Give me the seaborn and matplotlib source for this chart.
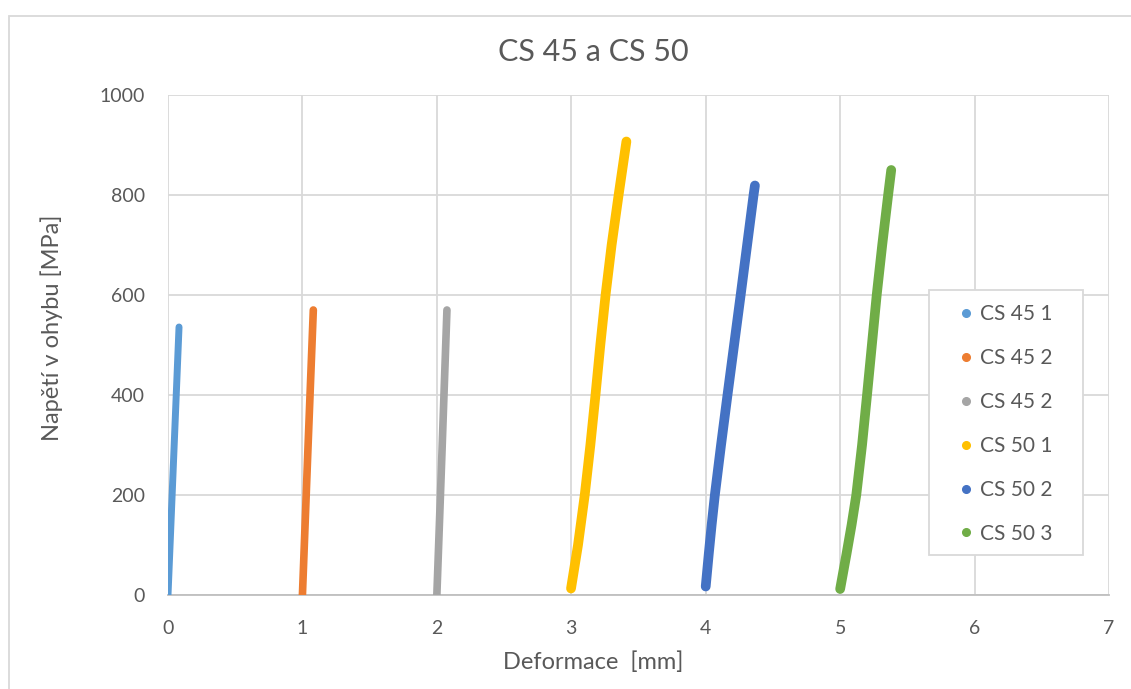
import matplotlib
matplotlib.use("Agg")
import matplotlib.pyplot as plt
import matplotlib.patches as mpatches
from matplotlib.lines import Line2D
import seaborn as sns
import pandas as pd

# Bending test curves: deformation [mm] vs. bending stress [MPa]
cs45_1_x = [0.000, 0.046, 0.082]
cs45_1_y = [0, 300, 536]

cs45_2a_x = [1.000, 1.040, 1.081]
cs45_2a_y = [0, 285, 570]

cs45_2b_x = [2.000, 2.038, 2.075]
cs45_2b_y = [0, 285, 570]

cs50_1_x = [2.998, 3.050, 3.100, 3.142, 3.180, 3.216, 3.255, 3.300, 3.352, 3.410]
cs50_1_y = [13, 100, 200, 300, 400, 500, 600, 700, 800, 907]

cs50_2_x = [4.000, 4.023, 4.044, 4.068, 4.114, 4.162, 4.211, 4.260, 4.308, 4.356, 4.366]
cs50_2_y = [17, 83, 140, 200, 300, 400, 500, 600, 700, 800, 819]

cs50_3_x = [5.000, 5.048, 5.085, 5.120, 5.163, 5.200, 5.236, 5.272, 5.313, 5.357, 5.380]
cs50_3_y = [12, 83, 140, 200, 300, 400, 500, 600, 700, 800, 850]

series_names = ["CS 45 1", "CS 45 2", "CS 45 2 ", "CS 50 1", "CS 50 2", "CS 50 3"]
legend_labels = ["CS 45 1", "CS 45 2", "CS 45 2", "CS 50 1", "CS 50 2", "CS 50 3"]
series_colors = ["#5B9BD5", "#ED7D31", "#A5A5A5", "#FFC000", "#4472C4", "#70AD47"]
series_widths = [5.0, 5.5, 5.5, 7.0, 7.0, 7.0]

x_ticks = [0, 1, 2, 3, 4, 5, 6, 7]
y_ticks = [0, 200, 400, 600, 800, 1000]

xs = [cs45_1_x, cs45_2a_x, cs45_2b_x, cs50_1_x, cs50_2_x, cs50_3_x]
ys = [cs45_1_y, cs45_2a_y, cs45_2b_y, cs50_1_y, cs50_2_y, cs50_3_y]

frames = []
for name, x, y in zip(series_names, xs, ys):
    frames.append(pd.DataFrame({"def": x, "stress": y, "series": name}))
df = pd.concat(frames, ignore_index=True)

sns.set_theme(style="white")
plt.rcParams["font.family"] = ["Lato", "DejaVu Sans"]

text_col = "#595959"
grid_col = "#D9D9D9"

fig = plt.figure(figsize=(11.31, 6.89), dpi=100)
W, H = 1131, 689
ax = fig.add_axes([168 / W, 1 - 595 / H, (1109 - 168) / W, (595 - 95) / H])

# outer chart frame
fig.patches.append(mpatches.Rectangle((9 / W, -0.01), 1.2, 1 - 16 / H + 0.01,
                                      transform=fig.transFigure, fill=False,
                                      edgecolor=grid_col, linewidth=1.3))

for name, col, lw in zip(series_names, series_colors, series_widths):
    sub = df[df["series"] == name]
    sns.lineplot(data=sub, x="def", y="stress", sort=False, ax=ax, color=col,
                 linewidth=lw, legend=False, estimator=None,
                 solid_capstyle="round", solid_joinstyle="round", zorder=3)

ax.set_xlim(0, 7)
ax.set_ylim(0, 1000)
ax.set_xticks(x_ticks)
ax.set_yticks(y_ticks)
ax.grid(True, color=grid_col, linewidth=1.3, zorder=0)
ax.set_axisbelow(True)
for side in ["top", "right", "left"]:
    ax.spines[side].set_visible(False)
ax.spines["bottom"].set_color("#BFBFBF")
ax.spines["bottom"].set_linewidth(1.3)
ax.tick_params(axis="both", length=0, labelsize=14, labelcolor=text_col)
ax.tick_params(axis="x", pad=18)
ax.tick_params(axis="y", pad=16.5)

ax.set_xlabel("Deformace  [mm]", fontsize=17, color=text_col)
ax.set_ylabel("Napětí v ohybu [MPa]", fontsize=17, color=text_col)
ax.xaxis.label.set_va("center")
ax.yaxis.label.set_va("center")
ax.xaxis.set_label_coords((593 - 168) / 941, (595 - 662) / 500)
ax.yaxis.set_label_coords((52 - 168) / 941, (595 - 328) / 500)

fig.text(593 / W, 1 - 52 / H, "CS 45 a CS 50", ha="center",
         va="center", fontsize=22, color=text_col)

# legend box
fig.patches.append(mpatches.Rectangle((929 / W, 1 - 555 / H), (1083 - 929) / W,
                                      (555 - 290) / H, transform=fig.transFigure,
                                      facecolor="white", edgecolor=grid_col,
                                      linewidth=1.3, zorder=5))

handles = [Line2D([0], [0], marker="o", linestyle="", markersize=5.5,
                  markerfacecolor=c, markeredgecolor=c) for c in series_colors]
leg = fig.legend(handles, legend_labels, loc="upper left",
                 bbox_to_anchor=(955.6 / W, 1 - 304 / H),
                 frameon=False, fontsize=15, labelcolor=text_col,
                 handlelength=1.0, handletextpad=0.15, labelspacing=1.15,
                 borderpad=0, borderaxespad=0)
leg.set_zorder(6)

fig.savefig("out.png", dpi=100)
